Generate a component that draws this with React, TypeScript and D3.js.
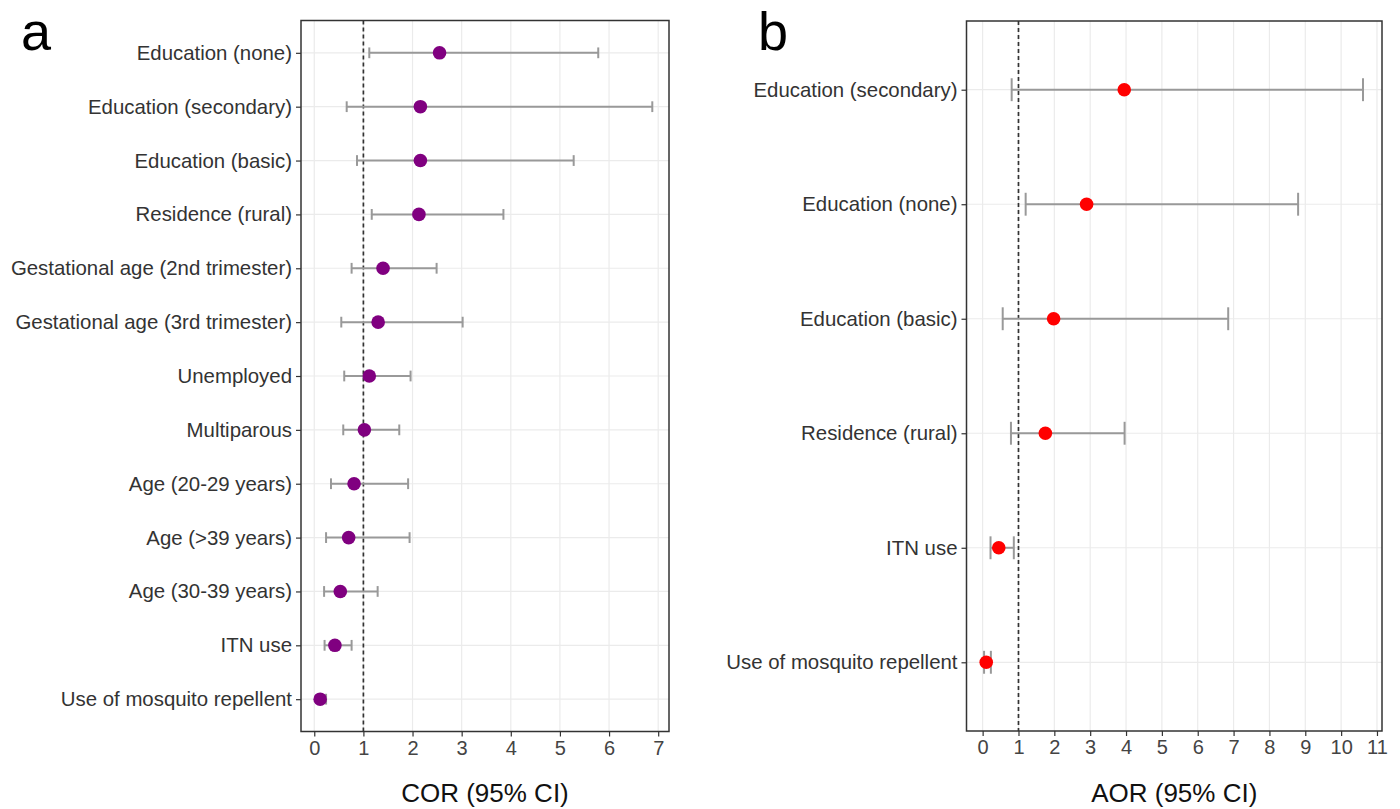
import React, { useEffect, useRef } from "react";
import * as d3 from "d3";

// panel a: crude odds ratios
const corLabels = [
  "Education (none)",
  "Education (secondary)",
  "Education (basic)",
  "Residence (rural)",
  "Gestational age (2nd trimester)",
  "Gestational age (3rd trimester)",
  "Unemployed",
  "Multiparous",
  "Age (20-29 years)",
  "Age (>39 years)",
  "Age (30-39 years)",
  "ITN use",
  "Use of mosquito repellent",
];
const corEst = [2.55, 2.16, 2.16, 2.13, 1.4, 1.3, 1.12, 1.02, 0.81, 0.7, 0.53, 0.42, 0.12];
const corLow = [1.12, 0.66, 0.87, 1.17, 0.76, 0.55, 0.61, 0.59, 0.34, 0.24, 0.2, 0.21, 0.07];
const corHigh = [5.78, 6.88, 5.28, 3.85, 2.49, 3.02, 1.96, 1.73, 1.91, 1.94, 1.29, 0.76, 0.24];
const corTicks = [0, 1, 2, 3, 4, 5, 6, 7];

// panel b: adjusted odds ratios
const aorLabels = [
  "Education (secondary)",
  "Education (none)",
  "Education (basic)",
  "Residence (rural)",
  "ITN use",
  "Use of mosquito repellent",
];
const aorEst = [3.95, 2.9, 1.98, 1.75, 0.45, 0.1];
const aorLow = [0.81, 1.2, 0.56, 0.79, 0.22, 0.04];
const aorHigh = [10.61, 8.8, 6.85, 3.96, 0.87, 0.23];
const aorTicks = [0, 1, 2, 3, 4, 5, 6, 7, 8, 9, 10, 11];

const FONT = "'Liberation Sans', Arial, sans-serif";

function drawPanel(svg, opts) {
  const { labels, est, low, high, ticks, xDomain, x0, x1, y0, y1, color, title, letter, letterX } = opts;
  const g = svg.append("g");

  const x = d3.scaleLinear().domain(xDomain).range([x0, x1]);
  const y = d3.scalePoint().domain(labels).range([y0, y1]).padding(0.6);
  const cap = y.step() * 0.1;

  // grid
  g.selectAll(".vgrid").data(ticks).join("line")
    .attr("x1", d => x(d)).attr("x2", d => x(d))
    .attr("y1", y0).attr("y2", y1)
    .attr("stroke", "#ebebeb").attr("stroke-width", 1.2);
  g.selectAll(".hgrid").data(labels).join("line")
    .attr("x1", x0).attr("x2", x1)
    .attr("y1", d => y(d)).attr("y2", d => y(d))
    .attr("stroke", "#ebebeb").attr("stroke-width", 1.2);

  // reference line at 1
  g.append("line")
    .attr("x1", x(1)).attr("x2", x(1)).attr("y1", y0).attr("y2", y1)
    .attr("stroke", "#333").attr("stroke-width", 1.7).attr("stroke-dasharray", "4,3");

  const rows = labels.map((l, i) => ({ l, e: est[i], lo: low[i], hi: high[i] }));

  // error bars
  const eb = g.selectAll(".eb").data(rows).join("g").attr("stroke", "#999").attr("stroke-width", 2);
  eb.append("line").attr("x1", d => x(d.lo)).attr("x2", d => x(d.hi)).attr("y1", d => y(d.l)).attr("y2", d => y(d.l));
  eb.append("line").attr("x1", d => x(d.lo)).attr("x2", d => x(d.lo)).attr("y1", d => y(d.l) - cap).attr("y2", d => y(d.l) + cap);
  eb.append("line").attr("x1", d => x(d.hi)).attr("x2", d => x(d.hi)).attr("y1", d => y(d.l) - cap).attr("y2", d => y(d.l) + cap);

  g.selectAll(".pt").data(rows).join("circle")
    .attr("cx", d => x(d.e)).attr("cy", d => y(d.l)).attr("r", 6.8).attr("fill", color);

  // border
  g.append("rect").attr("x", x0).attr("y", y0).attr("width", x1 - x0).attr("height", y1 - y0)
    .attr("fill", "none").attr("stroke", "#333").attr("stroke-width", 1.5);

  // axes
  const xAxis = d3.axisBottom(x).tickValues(ticks).tickSize(5).tickPadding(4);
  const xa = g.append("g").attr("transform", `translate(0,${y1})`).call(xAxis);
  xa.select(".domain").remove();
  xa.selectAll(".tick line").attr("stroke", "#333").attr("stroke-width", 1.2);
  xa.selectAll(".tick text").attr("fill", "#444").attr("font-size", 20).attr("font-family", FONT);

  const yAxis = d3.axisLeft(y).tickSize(5).tickPadding(4);
  const ya = g.append("g").attr("transform", `translate(${x0},0)`).call(yAxis);
  ya.select(".domain").remove();
  ya.selectAll(".tick line").attr("stroke", "#333").attr("stroke-width", 1.2);
  ya.selectAll(".tick text").attr("fill", "#333").attr("font-size", 20.4).attr("font-family", FONT);

  g.append("text").attr("x", (x0 + x1) / 2).attr("y", 802).attr("text-anchor", "middle")
    .attr("font-size", 26).attr("font-family", FONT).attr("fill", "#111").text(title);

  g.append("text").attr("x", letterX).attr("y", 50)
    .attr("font-size", 54).attr("font-family", FONT).attr("fill", "#000").text(letter);
}

export default function App() {
  const ref = useRef(null);
  useEffect(() => {
    const svg = d3.select(ref.current);
    svg.selectAll("*").remove();
    svg.append("rect").attr("width", 1400).attr("height", 809).attr("fill", "#fff");
    drawPanel(svg, {
      labels: corLabels, est: corEst, low: corLow, high: corHigh, ticks: corTicks,
      xDomain: [-0.27, 7.22], x0: 301, x1: 669, y0: 20.5, y1: 731.5,
      color: "#800080", title: "COR (95% CI)", letter: "a", letterX: 21,
    });
    drawPanel(svg, {
      labels: aorLabels, est: aorEst, low: aorLow, high: aorHigh, ticks: aorTicks,
      xDomain: [-0.45, 11.14], x0: 966.5, x1: 1382, y0: 21, y1: 731,
      color: "#ff0000", title: "AOR (95% CI)", letter: "b", letterX: 758,
    });
  }, []);
  return (
    <svg ref={ref} width={1400} height={809} style={{ position: "absolute", left: 0, top: 0 }} />
  );
}
